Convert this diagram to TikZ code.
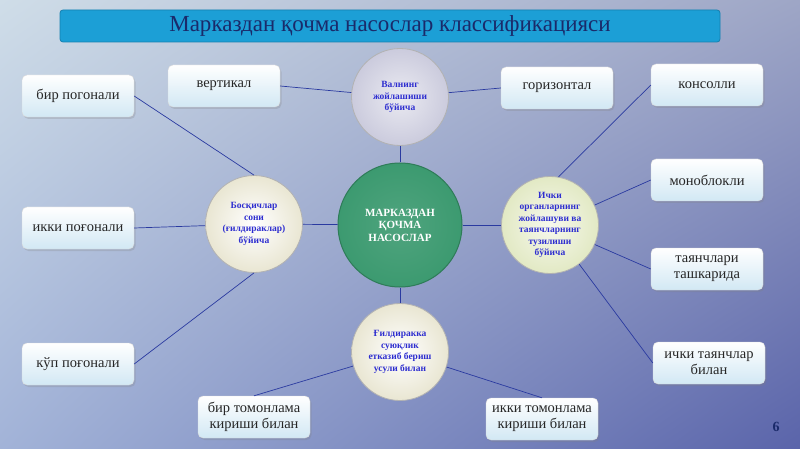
\documentclass[tikz,border=0pt]{standalone}
\usepackage{fontspec}
\setmainfont{Liberation Serif}
\usetikzlibrary{shadows,shadings}
\definecolor{bgTL}{HTML}{CFDDE8}
\definecolor{bgTR}{HTML}{9EA6C6}
\definecolor{bgBL}{HTML}{A2B3D8}
\definecolor{bgBR}{HTML}{5A64AA}
\definecolor{titlefill}{HTML}{1C9FD6}
\definecolor{titleedge}{HTML}{1580B0}
\definecolor{titletext}{HTML}{1A2A6A}
\definecolor{linkc}{HTML}{2A3AA0}
\definecolor{circtext}{HTML}{2E2ED0}
\definecolor{boxtop}{HTML}{FFFFFF}
\definecolor{boxbot}{HTML}{D2E8F4}
\definecolor{greenc}{HTML}{3C9A70}
\definecolor{greenedge}{HTML}{2E7C58}
\definecolor{lavc}{HTML}{CBCBDD}
\definecolor{creamc}{HTML}{E9E6D2}
\definecolor{creamg}{HTML}{E2E9C4}
\tikzset{
  leafbox/.style={rectangle, rounded corners=5pt, minimum width=112pt, minimum height=42pt,
    top color=boxtop, bottom color=boxbot, draw=white!85!black, line width=0.4pt,
    align=center, font=\fontsize{14.5}{16}\selectfont, text=black!85,
    drop shadow={opacity=0.25, shadow xshift=1.5pt, shadow yshift=-2pt}},
  subcirc/.style={circle, minimum size=97pt, inner sep=0pt, align=center,
    draw=black!30, line width=0.8pt, text=circtext,
    font=\bfseries\fontsize{9.5}{11.5}\selectfont},
  maincirc/.style={circle, minimum size=124pt, inner sep=0pt, align=center,
    inner color=greenc!90!white, outer color=greenc, draw=greenedge, line width=1pt,
    text=white, font=\bfseries\fontsize{11}{12.5}\selectfont},
  link/.style={draw=linkc, line width=0.7pt}
}
\begin{document}
\begin{tikzpicture}[x=1pt,y=-1pt]
\useasboundingbox (0,0) rectangle (800,449);
\shade[upper left=bgTL, upper right=bgTR, lower left=bgBL, lower right=bgBR] (0,0) rectangle (800,449);

% title
\node[rectangle, rounded corners=3pt, minimum width=660pt, minimum height=32pt,
  fill=titlefill, draw=titleedge, line width=0.8pt, text=titletext,
  font=\fontsize{23}{25}\selectfont] (title) at (390,26) {Марказдан қочма насослар классификацияси};

% circles
\node[maincirc] (C) at (400,225) {МАРКАЗДАН\\ҚОЧМА\\НАСОСЛАР};
\node[subcirc, inner color=white!60!lavc, outer color=lavc] (T) at (400,97) {Валнинг\\жойлашиши\\бўйича};
\node[subcirc, inner color=white, outer color=creamc] (L) at (254,224) {Босқичлар\\сони\\(ғилдираклар)\\бўйича};
\node[subcirc, inner color=white!70!creamg, outer color=creamg] (R) at (550,225) {Ички\\органларнинг\\жойлашуви ва\\таянчларнинг\\тузилиши\\бўйича};
\node[subcirc, inner color=white, outer color=creamc] (B) at (400,352) {Ғилдиракка\\суюқлик\\етказиб бериш\\усули билан};

% leaf boxes
\node[leafbox] (b1) at (78,96) {бир погонали};
\node[leafbox] (b2) at (78,228) {икки поғонали};
\node[leafbox] (b3) at (78,364) {кўп поғонали};
\node[leafbox] (v) at (224,86) {вертикал};
\node[leafbox] (h) at (557,88) {горизонтал};
\node[leafbox] (r1) at (707,85) {консолли};
\node[leafbox] (r2) at (707,180) {моноблокли};
\node[leafbox] (r3) at (707,269) {таянчлари\\ташкарида};
\node[leafbox] (r4) at (709,363) {ички таянчлар\\билан};
\node[leafbox] (d1) at (254,417) {бир томонлама\\кириши билан};
\node[leafbox] (d2) at (542,419) {икки томонлама\\кириши билан};

% connectors
\path[link] (T) -- (C);
\path[link] (L) -- (C);
\path[link] (R) -- (C);
\path[link] (B) -- (C);
\path[link] (T) -- (v.east);
\path[link] (T) -- (h.west);
\path[link] (L.north) -- (b1.east);
\path[link] (L) -- (b2.east);
\path[link] (L.south) -- (b3.east);
\path[link] (R.80) -- (r1.west);
\path[link] (R) -- (r2.west);
\path[link] (R) -- (r3.west);
\path[link] (R) -- (r4.west);
\path[link] (B) -- (d1.north);
\path[link] (B) -- (d2.north);

% page number
\node[font=\bfseries\fontsize{14}{14}\selectfont, text=titletext] (pg) at (776,427) {6};
\end{tikzpicture}
\end{document}
